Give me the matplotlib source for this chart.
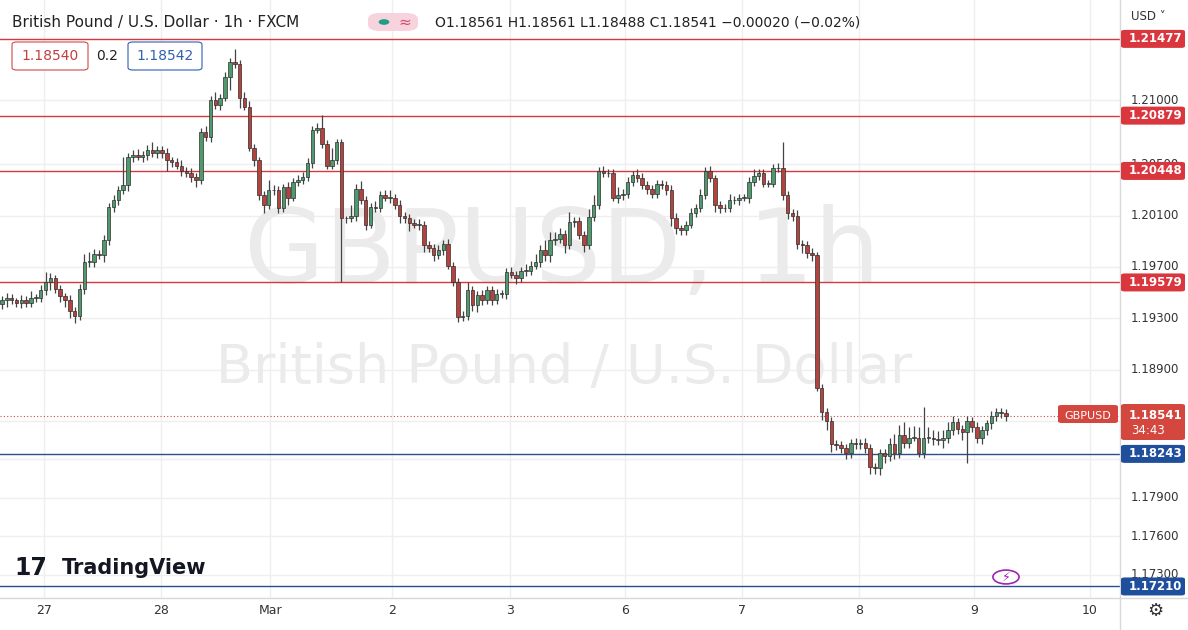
import matplotlib
matplotlib.use("Agg")
import matplotlib.pyplot as plt
from matplotlib.patches import FancyBboxPatch, Circle
import numpy as np

W, H = 1188, 630
UP, DOWN, EDGE = "#4e9a6c", "#b5433d", "#2e2e2e"
RED_LINE, BLUE_LINE = "#d9363e", "#2a4f8a"

# hourly closes, GBP/USD (open = previous close)
closes = [
    1.1944, 1.1946, 1.1944, 1.1942, 1.1944, 1.1942, 1.1946, 1.1946, 1.1952, 1.1958, 1.1961, 1.1953,
    1.1947, 1.1944, 1.1936, 1.1932, 1.1953, 1.1974, 1.1974, 1.1980, 1.1979, 1.1991, 1.2017, 1.2022,
    1.2030, 1.2034, 1.2056, 1.2057, 1.2056, 1.2057, 1.2061, 1.2059, 1.2061, 1.2059, 1.2053, 1.2052,
    1.2049, 1.2045, 1.2043, 1.2040, 1.2038, 1.2075, 1.2071, 1.2100, 1.2096, 1.2102, 1.2118, 1.2130,
    1.2128, 1.2102, 1.2095, 1.2063, 1.2053, 1.2026, 1.2018, 1.2030, 1.2030, 1.2016, 1.2032, 1.2024,
    1.2036, 1.2038, 1.2040, 1.2051, 1.2077, 1.2078, 1.2066, 1.2049, 1.2053, 1.2067, 1.2008, 1.2008,
    1.2010, 1.2031, 1.2022, 1.2003, 1.2017, 1.2016, 1.2026, 1.2024, 1.2024, 1.2018, 1.2010, 1.2008,
    1.2004, 1.2003, 1.2003, 1.1987, 1.1985, 1.1979, 1.1983, 1.1988, 1.1971, 1.1958, 1.1931, 1.1932,
    1.1952, 1.1940, 1.1948, 1.1944, 1.1952, 1.1944, 1.1949, 1.1949, 1.1966, 1.1964, 1.1961, 1.1967,
    1.1967, 1.1971, 1.1974, 1.1983, 1.1979, 1.1991, 1.1992, 1.1996, 1.1987, 1.2005, 1.2006, 1.1995,
    1.1987, 1.2009, 1.2018, 1.2045, 1.2043, 1.2043, 1.2024, 1.2026, 1.2027, 1.2036, 1.2042, 1.2039,
    1.2034, 1.2031, 1.2027, 1.2035, 1.2034, 1.2030, 1.2008, 1.2000, 1.1999, 1.2003, 1.2012, 1.2016,
    1.2026, 1.2045, 1.2039, 1.2018, 1.2016, 1.2016, 1.2022, 1.2022, 1.2024, 1.2024, 1.2036, 1.2041,
    1.2043, 1.2035, 1.2035, 1.2047, 1.2047, 1.2026, 1.2012, 1.2010, 1.1988, 1.1987, 1.1981, 1.1979,
    1.1876, 1.1857, 1.1850, 1.1832, 1.1831, 1.1829, 1.1825, 1.1833, 1.1832, 1.1833, 1.1829, 1.1814,
    1.1813, 1.1825, 1.1823, 1.1832, 1.1825, 1.1839, 1.1833, 1.1837, 1.1837, 1.1825, 1.1837, 1.1837,
    1.1836, 1.1835, 1.1837, 1.1843, 1.1849, 1.1844, 1.1841, 1.1850, 1.1845, 1.1837, 1.1843, 1.1848,
    1.1854, 1.1857, 1.1856, 1.1854,
]
first_open = 1.1941
# wick length beyond the body, in pips (up, down)
wick_up = [
    3, 4, 3, 2, 4, 3, 5, 3, 4, 8, 4, 3, 3, 3, 4, 3, 4, 6, 8, 4, 3, 4, 3, 4,
    3, 22, 3, 4, 5, 3, 4, 6, 3, 3, 4, 3, 3, 4, 3, 4, 3, 3, 5, 3, 6, 3, 4, 3,
    10, 3, 4, 4, 3, 3, 3, 8, 4, 3, 3, 4, 3, 4, 4, 4, 3, 4, 10, 3, 10, 3, 3, 2,
    8, 4, 6, 3, 3, 4, 3, 4, 6, 3, 4, 3, 3, 3, 4, 3, 3, 3, 4, 3, 4, 3, 3, 4,
    6, 3, 3, 4, 3, 3, 4, 3, 3, 4, 3, 3, 5, 4, 6, 4, 8, 6, 5, 4, 3, 8, 3, 3,
    3, 6, 8, 3, 4, 3, 3, 6, 4, 4, 3, 4, 4, 3, 3, 3, 3, 3, 4, 4, 3, 3, 4, 3,
    5, 3, 4, 3, 3, 3, 5, 3, 3, 3, 4, 5, 3, 3, 3, 3, 4, 20, 3, 3, 4, 3, 3, 4,
    3, 3, 3, 3, 3, 3, 3, 3, 4, 3, 4, 3, 3, 3, 3, 5, 8, 8, 10, 8, 9, 8, 24, 8,
    6, 6, 6, 6, 5, 3, 3, 4, 3, 4, 3, 3, 4, 3, 3, 3, 8, 4, 0, 0,
]
wick_dn = [
    4, 5, 3, 3, 4, 3, 3, 3, 3, 4, 6, 3, 4, 5, 6, 6, 3, 4, 4, 4, 3, 5, 4, 4,
    4, 3, 5, 4, 3, 4, 4, 3, 4, 4, 8, 4, 3, 4, 3, 4, 6, 3, 3, 4, 3, 4, 3, 10,
    3, 8, 3, 3, 4, 4, 6, 3, 4, 4, 3, 6, 3, 3, 3, 3, 4, 3, 3, 3, 3, 3, 50, 4,
    3, 4, 3, 4, 3, 3, 3, 3, 4, 3, 6, 4, 6, 3, 4, 5, 3, 4, 3, 4, 3, 3, 4, 3,
    3, 4, 5, 4, 3, 4, 3, 3, 4, 3, 4, 3, 4, 3, 3, 4, 4, 5, 4, 3, 6, 3, 4, 3,
    5, 3, 3, 3, 3, 3, 3, 4, 4, 3, 3, 3, 3, 4, 3, 3, 3, 4, 6, 4, 4, 4, 3, 3,
    3, 3, 3, 5, 4, 3, 3, 3, 4, 3, 4, 3, 3, 3, 3, 3, 3, 4, 5, 4, 4, 6, 4, 4,
    3, 6, 7, 6, 4, 4, 5, 4, 4, 4, 4, 5, 4, 5, 6, 4, 5, 4, 4, 4, 3, 3, 4, 4,
    5, 4, 6, 4, 4, 4, 6, 24, 4, 4, 5, 4, 4, 4, 4, 4, 3, 3, 3, 3, 2, 3,
]

day_pos = [8.7, 32.8, 55.3, 80.4, 104.7, 128.5, 152.6, 176.7, 200.4, 224.3]
day_labels = ["27", "28", "Mar", "2", "3", "6", "7", "8", "9", "10"]
price_ticks = [1.173, 1.176, 1.179, 1.182, 1.185, 1.189, 1.193, 1.197, 1.201, 1.205, 1.210]
shown_ticks = ["1.17300", "1.17600", "1.17900", "", "", "1.18900", "1.19300", "1.19700", "1.20100", "1.20500", "1.21000"]
resistance = [1.21477, 1.20879, 1.20448, 1.19579]
support = [1.18243, 1.17210]
last_price = 1.18541

YMIN, YMAX = 1.1712, 1.2178
fig = plt.figure(figsize=(W / 100, H / 100), dpi=100)
ax = fig.add_axes([0, 32 / H, 1120 / W, 1 - 32 / H])
ax.set_xlim(-0.4, 230.5)
ax.set_ylim(YMIN, YMAX)
for s in ax.spines.values():
    s.set_visible(False)
ax.set_xticks([]); ax.set_yticks([])

def py(p):  # price -> figure pixel y from top
    return (YMAX - p) / (YMAX - YMIN) * (H - 32)

for t in price_ticks:
    ax.axhline(t, color="#efeff2", lw=1, zorder=0)
for d in day_pos:
    ax.axvline(d, color="#efeff2", lw=1, zorder=0)

# watermarks
ax.text(0.502, 0.575, "GBPUSD, 1h", transform=ax.transAxes, ha="center", va="center",
        fontsize=75, color="#ebebeb", zorder=0.5)
ax.text(0.504, 0.385, "British Pound / U.S. Dollar", transform=ax.transAxes, ha="center", va="center",
        fontsize=39, color="#ebebeb", zorder=0.5)

for p in resistance:
    ax.axhline(p, color=RED_LINE, lw=1, zorder=1)
for p in support:
    ax.axhline(p, color=BLUE_LINE, lw=1, zorder=1)
ax.axhline(last_price, color="#c0504a", lw=0.8, ls=(0, (1, 2)), zorder=1)

opens = [first_open] + closes[:-1]
for i, (o, c) in enumerate(zip(opens, closes)):
    hi = max(o, c) + wick_up[i] * 1e-4
    lo = min(o, c) - wick_dn[i] * 1e-4
    ax.vlines(i, lo, hi, color="#444444", lw=0.9, zorder=2)
    h = max(abs(c - o), 0.00003)
    ax.bar(i, h, bottom=min(o, c), width=0.72, color=UP if c >= o else DOWN,
           edgecolor=EDGE, linewidth=0.5, zorder=3)

# right price scale
fig.add_artist(plt.Line2D([1120 / W] * 2, [0, 1], color="#d8d8d8", lw=1))
fig.add_artist(plt.Line2D([0, 1], [32 / H] * 2, color="#d8d8d8", lw=1))
for t, lab in zip(price_ticks, shown_ticks):
    if lab:
        fig.text(1131 / W, 1 - py(t) / H, lab, fontsize=8.5, color="#333333", va="center", zorder=1)

def tag(ypix, text, color, x0=1121, w=64, h=18):
    fig.add_artist(FancyBboxPatch((x0 / W, 1 - (ypix + h / 2) / H), w / W, h / H,
                                  boxstyle="round,pad=0,rounding_size=0.003", fc=color, ec="none",
                                  zorder=5))
    fig.text((x0 + 8) / W, 1 - ypix / H, text, fontsize=8.5, color="white", va="center",
             fontweight="bold", zorder=6)

for p in resistance:
    tag(py(p), f"{p:.5f}", RED_LINE)
for p in support:
    tag(py(p), f"{p:.5f}", "#1f4e9c")
fig.add_artist(FancyBboxPatch((1121 / W, 1 - 440 / H), 64 / W, 36 / H,
                              boxstyle="round,pad=0,rounding_size=0.003", fc="#d3473f", ec="none", zorder=5))
fig.text(1129 / W, 1 - py(last_price) / H, f"{last_price:.5f}", fontsize=8.5, color="white",
         va="center", fontweight="bold", zorder=6)
fig.text(1131 / W, 1 - 431 / H, "34:43", fontsize=8.5, color="white", va="center", zorder=6)
fig.add_artist(FancyBboxPatch((1058 / W, 1 - 423 / H), 60 / W, 18 / H,
                              boxstyle="round,pad=0,rounding_size=0.003", fc="#d3473f", ec="none", zorder=5))
fig.text(1088 / W, 1 - py(last_price) / H, "GBPUSD", fontsize=8, color="white", va="center",
         ha="center", zorder=6)
fig.text(1131 / W, 1 - 16 / H, "USD ˅", fontsize=8.5, color="#333333", va="center")

# day labels
for d, lab in zip(day_pos, day_labels):
    xp = (d + 0.4) / 230.9 * 1120
    fig.text(xp / W, 1 - 611 / H, lab, fontsize=9, color="#333333", ha="center", va="center")
fig.text(1155 / W, 1 - 611 / H, "⚙", fontsize=13, color="#333333", ha="center", va="center")

# header
fig.text(12 / W, 1 - 22 / H, "British Pound / U.S. Dollar · 1h · FXCM", fontsize=11, color="#222222", va="center")
fig.add_artist(FancyBboxPatch((368 / W, 1 - 31 / H), 50 / W, 18 / H,
                              boxstyle="round,pad=0,rounding_size=0.01", fc="#f7d4dd", ec="none"))
fig.add_artist(Circle((384 / W, 1 - 22 / H), 0.0045, transform=fig.transFigure, fc="#1e9e82", ec="none"))
fig.text(405 / W, 1 - 22 / H, "≈", fontsize=11, color="#d04a6a", ha="center", va="center")
fig.text(435 / W, 1 - 22 / H, "O1.18561 H1.18561 L1.18488 C1.18541 −0.00020 (−0.02%)",
         fontsize=10, color="#222222", va="center")
for x0, w, txt, ec, tc in [(12, 76, "1.18540", "#d04a4a", "#c04040"), (128, 74, "1.18542", "#3060b0", "#3060b0")]:
    fig.add_artist(FancyBboxPatch((x0 / W, 1 - 70 / H), w / W, 28 / H,
                                  boxstyle="round,pad=0,rounding_size=0.004", fc="white", ec=ec, lw=0.8))
    fig.text((x0 + w / 2) / W, 1 - 56 / H, txt, fontsize=10, color=tc, ha="center", va="center")
fig.text(107 / W, 1 - 56 / H, "0.2", fontsize=10, color="#222222", ha="center", va="center")

# logo
fig.text(14 / W, 1 - 568 / H, "17", fontsize=17, fontweight="bold", color="#131722", va="center")
fig.text(62 / W, 1 - 568 / H, "TradingView", fontsize=15, fontweight="bold", color="#131722", va="center")
fig.add_artist(Circle((1006 / W, 1 - 577 / H), 0.011, transform=fig.transFigure, fc="white",
                      ec="#9c27b0", lw=1.2))
fig.text(1006 / W, 1 - 577 / H, "⚡", fontsize=9, color="#9c27b0", ha="center", va="center")

fig.savefig("out.png", dpi=100)
